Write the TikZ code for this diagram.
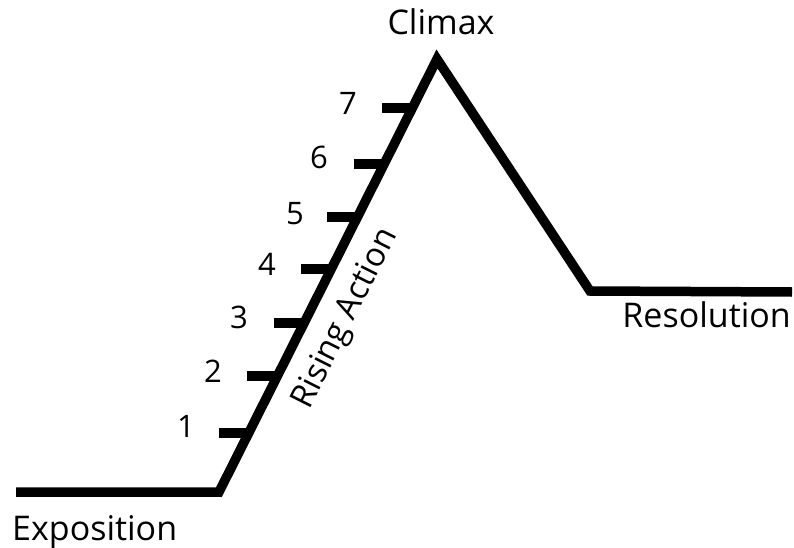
\documentclass[tikz,border=0pt]{standalone}
\usepackage{fontspec}
\setmainfont{Open Sans}
\begin{document}
\begin{tikzpicture}[x=1pt,y=-1pt,
  plot/.style={line width=9.5pt, line join=miter, black},
  tick/.style={line width=9.5pt, black},
  lbl/.style={font=\fontsize{34}{40}\selectfont, inner sep=0pt},
  num/.style={font=\fontsize{31}{36}\selectfont, inner sep=0pt, anchor=base}]
\useasboundingbox (0,0) rectangle (794,548);
\coordinate (s) at (16,492);
\coordinate (a) at (219,492);
\coordinate (p) at (437,59);
\coordinate (b) at (590,291);
\coordinate (e) at (792,292);
\draw[plot] (s) -- (a) -- (p) -- (b) -- (e);
\foreach \i/\y in {1/433,2/376,3/323,4/269,5/217,6/164,7/108}{
  \pgfmathsetmacro{\xl}{219+(492-\y)/433*218}
  \coordinate (t\i) at (\xl,\y);
  \coordinate (u\i) at (\xl-30,\y);
  \draw[tick] (u\i) -- (t\i);
}
\node[num] (n1) at (186,437) {1};
\node[num] (n2) at (213,382) {2};
\node[num] (n3) at (239,328) {3};
\node[num] (n4) at (267,275) {4};
\node[num] (n5) at (295,224) {5};
\node[num] (n6) at (319,168) {6};
\node[num] (n7) at (348,115) {7};
\node[lbl, anchor=base west] (expo) at (12,540) {Exposition};
\node[lbl, anchor=base] (clim) at (441,35) {Climax};
\node[lbl, anchor=base east] (reso) at (791,327) {Resolution};
\node[lbl, font=\fontsize{33}{40}\selectfont, rotate=63.3] (rise) at (346,319) {Rising Action};
\end{tikzpicture}
\end{document}
